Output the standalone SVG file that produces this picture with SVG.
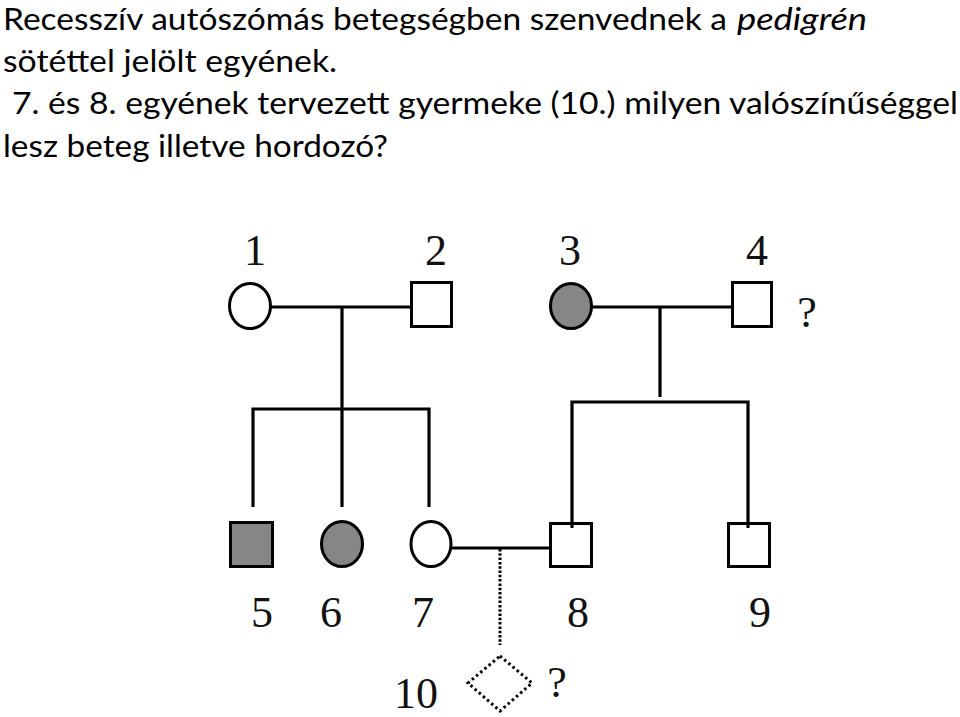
<svg xmlns="http://www.w3.org/2000/svg" width="960" height="717" viewBox="0 0 960 717">
<style>
.t{font-family:Lato,"Open Sans","Noto Sans",sans-serif;font-size:30px;fill:#000}
.n{font-family:"Liberation Serif","Times New Roman",serif;font-size:44px;fill:#111;text-anchor:middle}
.sym{stroke:#000;stroke-width:3;fill:#fff}
.aff{fill:#868686}
.ln{stroke:#000;stroke-width:3.2;fill:none}
.dot{stroke:#000;stroke-width:3;fill:none;stroke-dasharray:2.5 1.8}
</style>
<rect width="960" height="717" fill="#fff"/>
<g id="title">
<text class="t" x="3" y="30" textLength="724" lengthAdjust="spacingAndGlyphs">Recesszív autószómás betegségben szenvednek a</text>
<text class="t" x="737" y="30" font-style="italic" textLength="130" lengthAdjust="spacingAndGlyphs">pedigrén</text>
<text class="t" x="3" y="72" textLength="334" lengthAdjust="spacingAndGlyphs">sötéttel jelölt egyének.</text>
<text class="t" x="12" y="114" textLength="946" lengthAdjust="spacingAndGlyphs">7. és 8. egyének tervezett gyermeke (10.) milyen valószínűséggel</text>
<text class="t" x="3" y="157" textLength="385" lengthAdjust="spacingAndGlyphs">lesz beteg illetve hordozó?</text>
</g>
<g id="connectors">
<line class="ln" x1="271" y1="307" x2="411" y2="307"/>
<line class="ln" x1="342" y1="307" x2="342" y2="409"/>
<polyline class="ln" points="253,507 253,409 429,409 429,507"/>
<line class="ln" x1="342" y1="409" x2="342" y2="507"/>
<line class="ln" x1="592" y1="307" x2="732" y2="307"/>
<line class="ln" x1="660" y1="307" x2="660" y2="397"/>
<polyline class="ln" points="572,527 572,402 748,402 748,527"/>
<line class="ln" x1="452" y1="548" x2="550" y2="548"/>
<line class="dot" x1="500" y1="549" x2="500" y2="645"/>
</g>
<g id="n1"><ellipse class="sym" cx="250" cy="306" rx="20.5" ry="22.5"/><text class="n" x="255" y="265">1</text></g>
<g id="n2"><rect class="sym" x="411.5" y="282.5" width="40" height="44"/><text class="n" x="436" y="265">2</text></g>
<g id="n3"><ellipse class="sym aff" cx="571" cy="306" rx="20.5" ry="22.5"/><text class="n" x="570" y="265">3</text></g>
<g id="n4"><rect class="sym" x="732.5" y="282.5" width="39" height="44"/><text class="n" x="757" y="265">4</text><text class="n" x="807" y="327">?</text></g>
<g id="n5"><rect class="sym aff" x="230.5" y="522.5" width="42" height="44"/><text class="n" x="262" y="627">5</text></g>
<g id="n6"><ellipse class="sym aff" cx="342" cy="544" rx="20.5" ry="22.5"/><text class="n" x="331" y="627">6</text></g>
<g id="n7"><ellipse class="sym" cx="431" cy="544" rx="20" ry="22.5"/><text class="n" x="423" y="627">7</text></g>
<g id="n8"><rect class="sym" x="550.5" y="523.5" width="41" height="43"/><line class="ln" x1="572" y1="522" x2="572" y2="528"/><text class="n" x="578" y="627">8</text></g>
<g id="n9"><rect class="sym" x="728.5" y="523.5" width="41" height="43"/><line class="ln" x1="748" y1="522" x2="748" y2="528"/><text class="n" x="760" y="627">9</text></g>
<g id="n10"><polygon points="500,656 532,683 500,711 468,683" fill="#fff" stroke="#000" stroke-width="3" stroke-dasharray="2.5 3"/><text class="n" x="416" y="708">10</text><text class="n" x="557" y="697">?</text></g>
</svg>
